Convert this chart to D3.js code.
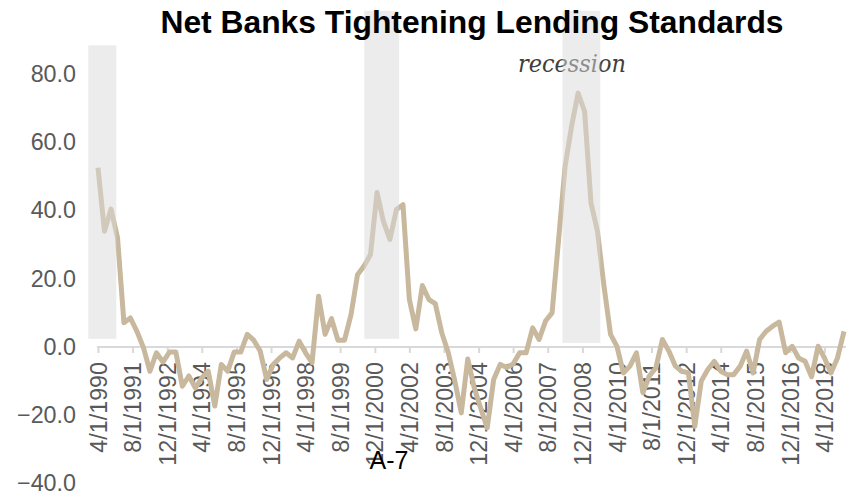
<!DOCTYPE html>
<html>
<head>
<meta charset="utf-8">
<script src="https://cdn.jsdelivr.net/npm/d3@7"></script>
<style>
  html, body { margin: 0; padding: 0; background: #fff; }
  svg { display: block; }
</style>
</head>
<body>
<svg id="chart" width="854" height="495"></svg>
<script>
// Survey dates (quarterly)
const quarters = [
  "1990-04-01","1990-07-01","1990-10-01",
  "1991-01-01","1991-04-01","1991-07-01","1991-10-01",
  "1992-01-01","1992-04-01","1992-07-01","1992-10-01",
  "1993-01-01","1993-04-01","1993-07-01","1993-10-01",
  "1994-01-01","1994-04-01","1994-07-01","1994-10-01",
  "1995-01-01","1995-04-01","1995-07-01","1995-10-01",
  "1996-01-01","1996-04-01","1996-07-01","1996-10-01",
  "1997-01-01","1997-04-01","1997-07-01","1997-10-01",
  "1998-01-01","1998-04-01","1998-07-01","1998-10-01",
  "1999-01-01","1999-04-01","1999-07-01","1999-10-01",
  "2000-01-01","2000-04-01","2000-07-01","2000-10-01",
  "2001-01-01","2001-04-01","2001-07-01","2001-10-01",
  "2002-01-01","2002-04-01","2002-07-01","2002-10-01",
  "2003-01-01","2003-04-01","2003-07-01","2003-10-01",
  "2004-01-01","2004-04-01","2004-07-01","2004-10-01",
  "2005-01-01","2005-04-01","2005-07-01","2005-10-01",
  "2006-01-01","2006-04-01","2006-07-01","2006-10-01",
  "2007-01-01","2007-04-01","2007-07-01","2007-10-01",
  "2008-01-01","2008-04-01","2008-07-01","2008-10-01",
  "2009-01-01","2009-04-01","2009-07-01","2009-10-01",
  "2010-01-01","2010-04-01","2010-07-01","2010-10-01",
  "2011-01-01","2011-04-01","2011-07-01","2011-10-01",
  "2012-01-01","2012-04-01","2012-07-01","2012-10-01",
  "2013-01-01","2013-04-01","2013-07-01","2013-10-01",
  "2014-01-01","2014-04-01","2014-07-01","2014-10-01",
  "2015-01-01","2015-04-01","2015-07-01","2015-10-01",
  "2016-01-01","2016-04-01","2016-07-01","2016-10-01",
  "2017-01-01","2017-04-01","2017-07-01","2017-10-01",
  "2018-01-01","2018-04-01","2018-07-01","2018-10-01",
  "2019-01-01"
];

// Net percentage of banks tightening lending standards
const netTightening = [
  52.5, 33.9, 40.4,
  32.0, 7.1, 8.5, 4.6,
  -0.2, -7.1, -1.7, -4.4,
  -1.5, -1.5, -11.5, -8.5,
  -12.0, -9.0, -7.1, -17.3,
  -5.1, -7.1, -1.5, -1.5,
  3.7, 2.0, -1.2, -9.5,
  -5.1, -3.2, -1.7, -3.2,
  1.7, -1.7, -4.6, 14.9,
  3.7, 8.3, 2.0, 2.0,
  9.5, 21.2, 23.7, 27.1,
  45.3, 36.8, 31.5, 40.3,
  41.7, 13.9, 5.3, 18.0,
  13.9, 12.7, 4.2, -1.7,
  -10.0, -19.3, -3.5, -12.0,
  -18.0, -23.7, -9.5, -5.1,
  -6.0, -5.0, -1.7, -1.7,
  5.6, 2.2, 7.6, 10.0,
  31.5, 52.9, 64.6, 74.4,
  69.0, 42.2, 33.9, 17.8,
  3.7, 0.2, -7.6, -5.6,
  -1.7, -13.4, -8.5, -6.1,
  2.2, -1.2, -5.6, -7.1,
  -7.6, -23.2, -10.0, -6.6,
  -4.2, -7.1, -8.1, -8.1,
  -5.6, -1.2, -7.6, 2.2,
  4.6, 6.1, 7.3, -1.7,
  0.2, -3.2, -4.2, -8.7,
  0.2, -3.2, -7.6, -3.2,
  4.6
];

// Category labels shown along the time axis
const tickLabels = [
  "4/1/1990","8/1/1991","12/1/1992","4/1/1994","8/1/1995","12/1/1996",
  "4/1/1998","8/1/1999","12/1/2000","4/1/2002","8/1/2003","12/1/2004",
  "4/1/2006","8/1/2007","12/1/2008","4/1/2010","8/1/2011","12/1/2012",
  "4/1/2014","8/1/2015","12/1/2016","4/1/2018"
];

// Value axis labels
const yTicks = [80, 60, 40, 20, 0, -20, -40];

// Recession shading periods
const recessionStart = ["1989-11-15", "2000-07-05", "2008-02-25"];
const recessionEnd   = ["1990-12-15", "2001-11-08", "2009-08-10"];
const recessionTop   = [88.4, 98.5, 98.5];
const recessionBase  = [2.4, 2.4, 1.2];

const parseISO = d3.timeParse("%Y-%m-%d");
const parseLabel = d3.timeParse("%-m/%-d/%Y");

const series = quarters.map((q, i) => ({ date: parseISO(q), value: netTightening[i] }));
const recessions = recessionStart.map((s, i) => ({
  start: parseISO(s), end: parseISO(recessionEnd[i]),
  top: recessionTop[i], base: recessionBase[i]
}));

const svg = d3.select("#chart");

const x = d3.scaleTime()
  .domain([parseLabel("4/1/1990"), parseLabel("4/1/2018")])
  .range([98, 824.5]);

const y = d3.scaleLinear()
  .domain([-40, 80])
  .range([483.5, 74]);

const lineColor = "#c8b89e";
const textGray = "#595959";
const axisGray = "#d9d9d9";

// Value axis labels (no axis line)
const yAxis = d3.axisLeft(y).tickValues(yTicks).tickFormat(d3.format(".1f")).tickSize(0).tickPadding(0);
const yG = svg.append("g").attr("transform", "translate(76,0)").call(yAxis);
yG.select(".domain").remove();
yG.selectAll("text")
  .attr("fill", textGray)
  .style("font-family", "'Liberation Sans', Arial, sans-serif")
  .style("font-size", "23.3px");

// Category axis at zero
const lastDate = series[series.length - 1].date;
const xAxis = d3.axisBottom(x)
  .tickValues(tickLabels.map(parseLabel))
  .tickFormat(d3.timeFormat("%-m/%-d/%Y"))
  .tickSize(6)
  .tickSizeOuter(0);
const xG = svg.append("g").attr("transform", `translate(0,${y(0)})`).call(xAxis);
xG.select(".domain")
  .attr("d", `M${x(series[0].date) - 1},0H${x(lastDate) + 2}`)
  .attr("stroke", axisGray).attr("stroke-width", 2);
xG.selectAll(".tick line").attr("stroke", axisGray).attr("stroke-width", 2);
xG.selectAll(".tick text")
  .attr("fill", textGray)
  .style("font-family", "'Liberation Sans', Arial, sans-serif")
  .style("font-size", "23.3px")
  .attr("text-anchor", "end")
  .attr("transform", "rotate(-90)")
  .attr("x", -15)
  .attr("y", 0)
  .attr("dy", "0.35em");

// Data line
const line = d3.line()
  .x(d => x(d.date))
  .y(d => y(d.value));

svg.append("path")
  .datum(series)
  .attr("d", line)
  .attr("fill", "none")
  .attr("stroke", lineColor)
  .attr("stroke-width", 5)
  .attr("stroke-linejoin", "round");

// Annotation
svg.append("text")
  .attr("x", 518)
  .attr("y", 72)
  .attr("fill", "#404040")
  .style("font-family", "'DejaVu Serif Condensed', 'DejaVu Serif', serif")
  .style("font-style", "italic")
  .style("font-size", "25px")
  .attr("textLength", 108)
  .attr("lengthAdjust", "spacingAndGlyphs")
  .text("recession");

// Recession shading (translucent, over the line)
svg.append("g").selectAll("rect")
  .data(recessions)
  .join("rect")
  .attr("x", d => x(d.start))
  .attr("width", d => x(d.end) - x(d.start))
  .attr("y", d => y(d.top))
  .attr("height", d => y(d.base) - y(d.top))
  .attr("fill", "#d9d9d9")
  .attr("fill-opacity", 0.5);

// Title
svg.append("text")
  .attr("x", 472)
  .attr("y", 32.5)
  .attr("text-anchor", "middle")
  .attr("fill", "#000")
  .style("font-family", "'Liberation Sans', Arial, sans-serif")
  .style("font-weight", "bold")
  .style("font-size", "31.8px")
  .text("Net Banks Tightening Lending Standards");

// Page marker
svg.append("text")
  .attr("x", 389)
  .attr("y", 469)
  .attr("text-anchor", "middle")
  .attr("fill", "#000")
  .style("font-family", "'Liberation Sans', Arial, sans-serif")
  .style("font-size", "25px")
  .text("A-7");
</script>
</body>
</html>
